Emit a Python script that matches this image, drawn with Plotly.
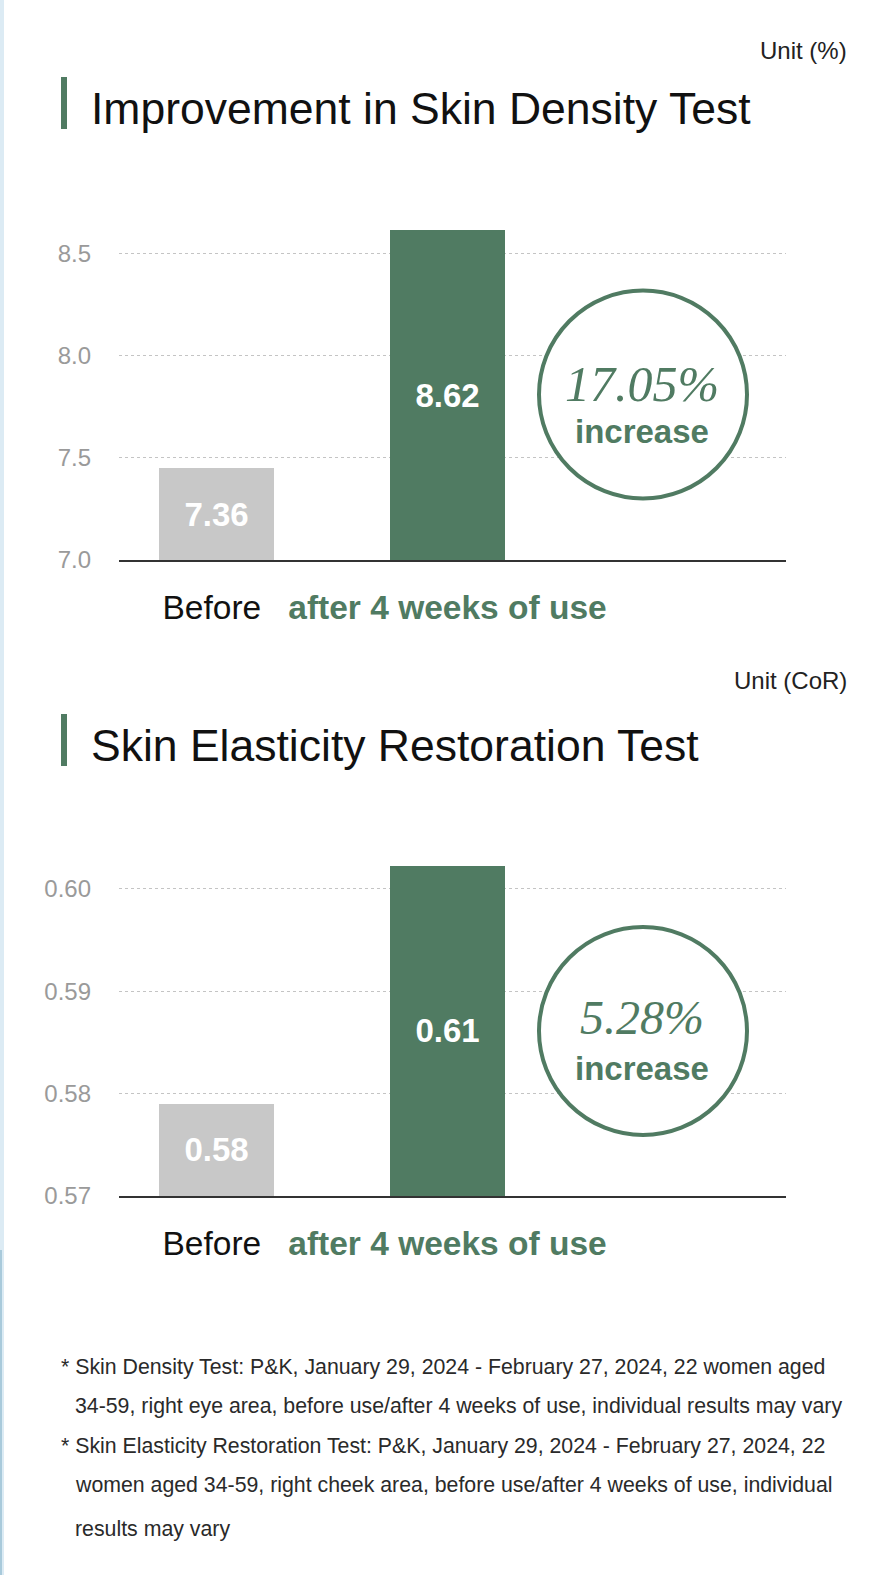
import plotly.graph_objects as go

W = 890
H = 1575

# ---------------- data ----------------
categories = ["Before", "after 4 weeks of use"]
density_bar = [7.45, 8.61]          # bar heights as drawn
density_labels = ["7.36", "8.62"]   # printed values
density_ticks = [7.0, 7.5, 8.0, 8.5]
elastic_bar = [0.579, 0.6023]
elastic_labels = ["0.58", "0.61"]
elastic_ticks = [0.57, 0.58, 0.59, 0.60]
increase_pct = ["17.05%", "5.28%"]
titles = ["Improvement in Skin Density Test", "Skin Elasticity Restoration Test"]
units = ["Unit (%)", "Unit (CoR)"]
footnotes = [
    "* Skin Density Test: P&K, January 29, 2024 - February 27, 2024, 22 women aged",
    "34-59, right eye area, before use/after 4 weeks of use, individual results may vary",
    "* Skin Elasticity Restoration Test: P&K, January 29, 2024 - February 27, 2024, 22",
    "women aged 34-59, right cheek area, before use/after 4 weeks of use, individual",
    "results may vary",
]

# ---------------- style ----------------
GREEN = "#507b62"
GREY_BAR = "#c8c8c8"
SANS = "Liberation Sans, Arial, sans-serif"
SERIF = "Liberation Serif, Times New Roman, serif"
bar_colors = [GREY_BAR, GREEN]


def py(px):
    return 1 - px / H


def px_x(px):
    return px / W


# panel geometry (pixels from top)
panels = [
    dict(axis_px=560, ppu=204.5, ymin=7.0, ymax=8.7, ticks=density_ticks, fmt=".1f",
         bars=density_bar, labels=density_labels, title_y=108, marker=(77, 129),
         unit_y=50, circ=(643, 394.5), pct_y=384, inc_y=432, pct_size=50),
    dict(axis_px=1196, ppu=10240, ymin=0.57, ymax=0.605, ticks=elastic_ticks, fmt=".2f",
         bars=elastic_bar, labels=elastic_labels, title_y=745, marker=(714, 766),
         unit_y=680, circ=(643, 1031), pct_y=1017, inc_y=1068, pct_size=48),
]

x_left_px, x_right_px = 119, 786
c0_px, step_px = 216.5, 231.0
xr = [(x_left_px - c0_px) / step_px, (x_right_px - c0_px) / step_px]

fig = go.Figure()
shapes = []
annotations = []

ticktext = [
    "<span style='color:#111111'>%s&nbsp;</span>" % categories[0],
    "<b><span style='color:%s'>%s</span></b>" % (GREEN, categories[1]),
]

for i, p in enumerate(panels):
    n = "" if i == 0 else str(i + 1)
    top_px = p["axis_px"] - (p["ymax"] - p["ymin"]) * p["ppu"]
    base = p["ymin"]
    fig.add_trace(go.Bar(
        x=[0, 1], y=[v - base for v in p["bars"]], base=base, width=0.498,
        marker=dict(color=bar_colors, line=dict(width=0)),
        text=p["labels"], textposition="inside", insidetextanchor="middle",
        textfont=dict(family=SANS, size=33, color="white", weight="bold"),
        constraintext="none",
        xaxis="x" + n, yaxis="y" + n, showlegend=False, hoverinfo="skip",
    ))
    fig.layout["xaxis" + n] = dict(
        domain=[px_x(x_left_px), px_x(x_right_px)], range=xr,
        anchor="y" + n, tickvals=[0, 1], ticktext=ticktext,
        tickfont=dict(family=SANS, size=33.5), ticks="", ticklabelstandoff=17,
        showline=True, linecolor="#333333", linewidth=2, showgrid=False,
        zeroline=False, fixedrange=True, automargin=False,
    )
    fig.layout["yaxis" + n] = dict(
        domain=[py(p["axis_px"]), py(top_px)], range=[p["ymin"], p["ymax"]],
        anchor="x" + n, tickvals=p["ticks"], tickformat=p["fmt"],
        tickfont=dict(family=SANS, size=24, color="#9a9a9a"), ticks="",
        ticklabelstandoff=27, showline=False, zeroline=False,
        showgrid=True, gridcolor="#c4c4c4", gridwidth=1, griddash="dot",
        fixedrange=True, automargin=False,
    )
    # title marker + title
    shapes.append(dict(type="rect", xref="paper", yref="paper",
                       x0=px_x(61), x1=px_x(67), y0=py(p["marker"][1]), y1=py(p["marker"][0]),
                       fillcolor=GREEN, line=dict(width=0)))
    annotations.append(dict(text=titles[i], xref="paper", yref="paper", x=px_x(89), y=py(p["title_y"]),
                            xanchor="left", yanchor="middle", showarrow=False,
                            font=dict(family=SANS, size=44.5, color="#111111")))
    annotations.append(dict(text=units[i], xref="paper", yref="paper", x=px_x(849), y=py(p["unit_y"]),
                            xanchor="right", yanchor="middle", showarrow=False,
                            font=dict(family=SANS, size=24, color="#222222")))
    # circle callout
    cx, cy = p["circ"]
    r = 104
    shapes.append(dict(type="circle", xref="paper", yref="paper",
                       x0=px_x(cx - r), x1=px_x(cx + r), y0=py(cy + r), y1=py(cy - r),
                       fillcolor="white", line=dict(color=GREEN, width=4)))
    annotations.append(dict(text="<i>%s</i>" % increase_pct[i], xref="paper", yref="paper",
                            x=px_x(642), y=py(p["pct_y"]), xanchor="center", yanchor="middle",
                            showarrow=False, font=dict(family=SERIF, size=p["pct_size"], color=GREEN)))
    annotations.append(dict(text="<b>increase</b>", xref="paper", yref="paper",
                            x=px_x(642), y=py(p["inc_y"]), xanchor="center", yanchor="middle",
                            showarrow=False, font=dict(family=SANS, size=33, color=GREEN)))

# footnotes
foot_y = [1367, 1406, 1446, 1485, 1529]
for line, yy in zip(footnotes, foot_y):
    x0 = 59 if line.startswith("*") else 73
    annotations.append(dict(text=line, xref="paper", yref="paper", x=px_x(x0), y=py(yy),
                            xanchor="left", yanchor="middle", showarrow=False,
                            font=dict(family=SANS, size=21.3, color="#2a2a2a")))

# page decorations
shapes.append(dict(type="rect", xref="paper", yref="paper", x0=0, x1=px_x(4), y0=0, y1=1,
                   fillcolor="#dcebf4", line=dict(width=0), layer="below"))
shapes.append(dict(type="rect", xref="paper", yref="paper", x0=0, x1=px_x(2), y0=0, y1=py(1250),
                   fillcolor="#a9cadb", line=dict(width=0), layer="below"))

fig.update_layout(
    width=W, height=H, margin=dict(l=0, r=0, t=0, b=0, pad=0, autoexpand=False),
    paper_bgcolor="white", plot_bgcolor="white",
    shapes=shapes, annotations=annotations, bargap=0,
    font=dict(family=SANS),
)

fig.write_html("out.html")
